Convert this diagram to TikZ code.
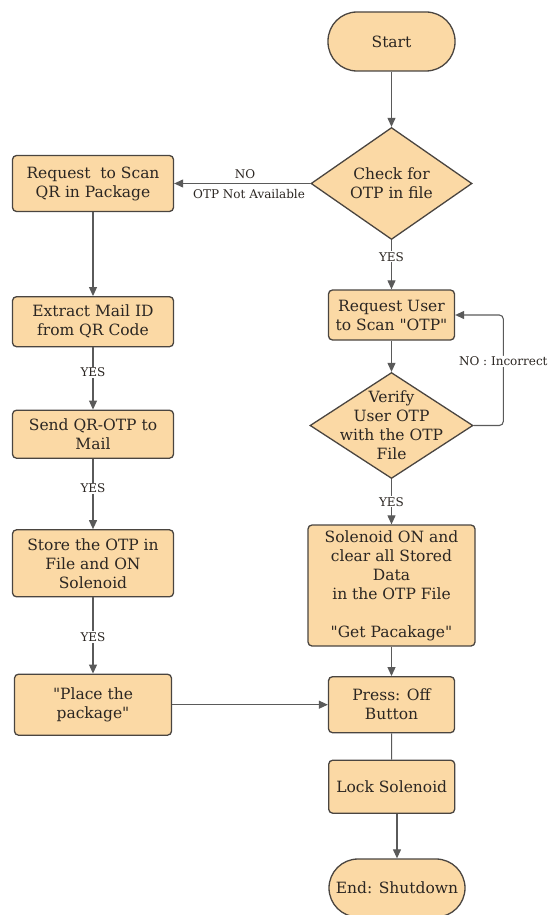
\documentclass[tikz,border=0pt]{standalone}
\usepackage{fontspec}
\setmainfont{DejaVu Serif}
\usetikzlibrary{shapes.geometric,arrows.meta}
\definecolor{boxfill}{HTML}{FBD9A5}
\definecolor{boxline}{HTML}{4A4540}
\definecolor{arr}{HTML}{5A5A5A}
\definecolor{ink}{HTML}{2B2622}
\font\qfont="DejaVu Serif" at 15.5pt
\newcommand{\qq}{{\qfont\symbol{34}}}
\tikzset{
  txt/.style={font=\fontsize{15.5}{19}\selectfont, align=center, text=ink},
  base/.style={draw=boxline, fill=boxfill, line width=1.3pt, txt, inner sep=0pt},
  proc/.style={base, rectangle, rounded corners=4pt},
  term/.style={base, rectangle, rounded corners=29pt},
  dec/.style={draw=boxline, fill=boxfill, line width=1.3pt, diamond, inner sep=0pt},
  conn/.style={draw=arr, line width=1.1pt, -{Triangle[length=9pt,width=8pt]}},
  plain/.style={draw=arr, line width=1.1pt},
  lbl/.style={font=\fontsize{12}{14}\selectfont, text=ink, fill=white, inner sep=1pt},
}
\begin{document}
\begin{tikzpicture}[x=1pt,y=-1pt]
\useasboundingbox (0,0) rectangle (549,915);
% right column
\node[term, minimum width=127, minimum height=59] (start) at (391.5,41.5) {Start};
\node[dec, minimum width=161, minimum height=112, label={[txt]center:{Check for\\OTP in file}}] (check) at (391.5,183.5) {};
\node[proc, minimum width=126, minimum height=50] (requser) at (391.5,315) {Request User\\to Scan \qq OTP\qq};
\node[dec, minimum width=163, minimum height=106, label={[txt]center:{Verify\\User OTP\\with the OTP\\File}}] (verify) at (391.5,425.5) {};
\node[proc, minimum width=167, minimum height=121] (sol) at (391.5,585.5) {Solenoid ON and\\clear all Stored\\Data\\in the OTP File\\[19pt]\qq Get Pacakage\qq};
\node[proc, minimum width=126, minimum height=56] (press) at (391.5,704.7) {Press: Off\\Button};
\node[proc, minimum width=126, minimum height=53] (lock) at (391.7,786.7) {Lock Solenoid};
\node[term, minimum width=136, minimum height=58] (end) at (397,888) {End: Shutdown};
% left column
\node[proc, minimum width=161, minimum height=56] (reqqr) at (93,183.5) {Request\ \ to Scan\\QR in Package};
\node[proc, minimum width=161, minimum height=50] (extract) at (93,321.7) {Extract Mail ID\\from QR Code};
\node[proc, minimum width=161, minimum height=48] (send) at (93,434.2) {Send QR-OTP to\\Mail};
\node[proc, minimum width=161, minimum height=67] (store) at (93,563.3) {Store the OTP in\\File and ON\\Solenoid};
\node[proc, minimum width=157, minimum height=61] (place) at (93,704.7) {\qq Place the\\package\qq};
% connectors
\draw[conn] (start) -- (check);
\draw[conn] (check) -- (reqqr)
  node[pos=0.48, above=3pt, lbl, fill=none] {NO}
  node[pos=0.45, below=4pt, lbl, fill=none] {OTP Not Available};
\draw[conn] (check) -- node[lbl, pos=0.34] {YES} (requser);
\draw[conn] (requser) -- (verify);
\coordinate (loopR) at (503.3,425.5);
\coordinate (loopT) at (503.3,315);
\draw[conn, rounded corners=4pt] (verify.east) -- (loopR) -- node[lbl, pos=0.58] {NO : Incorrect} (loopT) -- (requser.east);
\draw[conn] (verify) -- node[lbl, pos=0.5] {YES} (sol);
\draw[conn] (sol) -- (press);
\draw[plain] (press) -- (lock);
\draw[conn] (lock.south -| end.north) -- (end);
\draw[conn] (reqqr) -- (extract);
\draw[conn] (extract) -- node[lbl, pos=0.4] {YES} (send);
\draw[conn] (send) -- node[lbl, pos=0.42] {YES} (store);
\draw[conn] (store) -- node[lbl, pos=0.52] {YES} (place);
\draw[conn] (place) -- (press);
\end{tikzpicture}
\end{document}
